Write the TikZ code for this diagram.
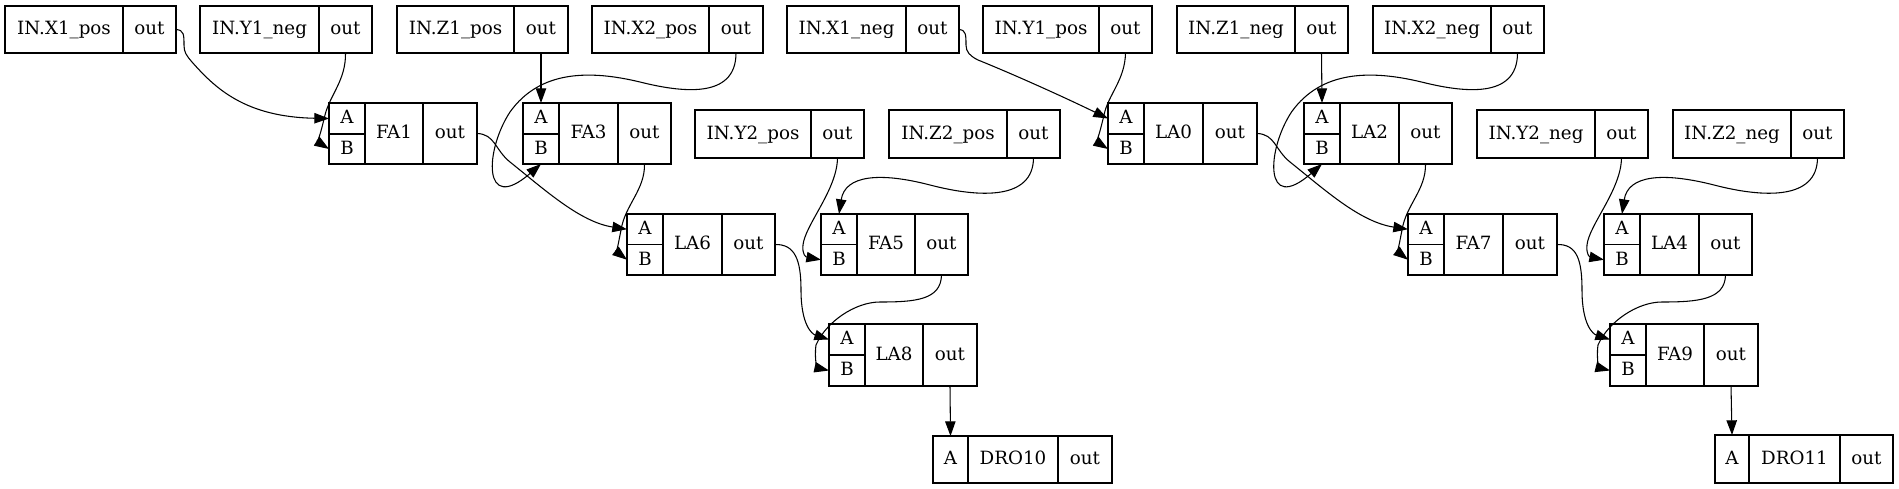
\documentclass[tikz,border=0pt]{standalone}
\usepackage{fontspec}
\setmainfont{DejaVu Serif}
\usetikzlibrary{arrows.meta}
\tikzset{
  fld/.style={draw, line width=0.8pt, inner sep=0pt, outer sep=0pt,
    text height=10pt, text depth=1.8pt, font=\fontsize{13.7pt}{16pt}\selectfont},
  wire/.style={draw, line width=0.8pt, -{Triangle[length=11pt,width=7.8pt]}},
}
% one field: name, x1, y1, x2, y2, text (pixel units)
\newcommand\fld[6]{\node[fld,minimum width={(#4-#2)*0.75pt},minimum height={(#5-#3)*0.75pt}] (#1) at ({(#2+#4)/2},{(#3+#5)/2}) {#6};}
% input record: name, x1, xdiv, x2, y1, y2, label
\newcommand\inrec[7]{\fld{#1}{#2}{#5}{#3}{#6}{#7}\fld{#1out}{#3}{#5}{#4}{#6}{out}}
% gate record: name, x1, d1, d2, x2, y1, ymid, y2
\newcommand\gate[8]{\fld{#1A}{#2}{#6}{#3}{#7}{A}\fld{#1B}{#2}{#7}{#3}{#8}{B}\fld{#1}{#3}{#6}{#4}{#8}{#1}\fld{#1out}{#4}{#6}{#5}{#8}{out}}
% output record: name, x1, d1, d2, x2, y1, y2
\newcommand\drorec[7]{\fld{#1A}{#2}{#6}{#3}{#7}{A}\fld{#1}{#3}{#6}{#4}{#7}{#1}\fld{#1out}{#4}{#6}{#5}{#7}{out}}
\begin{document}
\begin{tikzpicture}[x=0.75pt,y=-0.75pt]
\useasboundingbox (0,0) rectangle (1899,489);
% inputs, top row
\inrec{X1pos}{5}{123}{176}{6}{53}{IN.X1\_pos}
\inrec{Y1neg}{200}{319}{372}{6}{53}{IN.Y1\_neg}
\inrec{Z1pos}{397}{514}{568}{6}{53}{IN.Z1\_pos}
\inrec{X2pos}{592}{709}{763}{6}{53}{IN.X2\_pos}
\inrec{X1neg}{787}{906}{959}{6}{53}{IN.X1\_neg}
\inrec{Y1pos}{983}{1099}{1152}{6}{53}{IN.Y1\_pos}
\inrec{Z1neg}{1177}{1295}{1348}{6}{53}{IN.Z1\_neg}
\inrec{X2neg}{1373}{1491}{1544}{6}{53}{IN.X2\_neg}
% inputs, second row
\inrec{Y2pos}{695}{811}{864}{110}{158}{IN.Y2\_pos}
\inrec{Z2pos}{889}{1007}{1060}{110}{158}{IN.Z2\_pos}
\inrec{Y2neg}{1477}{1595}{1648}{110}{158}{IN.Y2\_neg}
\inrec{Z2neg}{1673}{1791}{1844}{110}{158}{IN.Z2\_neg}
% gates
\gate{FA1}{329}{365}{423}{477}{103}{134}{164}
\gate{FA3}{523}{559}{618}{671}{103}{134}{164}
\gate{LA0}{1108}{1144}{1203}{1257}{103}{134}{164}
\gate{LA2}{1304}{1340}{1399}{1452}{103}{134}{164}
\gate{LA6}{627}{663}{722}{775}{214}{244.5}{275}
\gate{FA5}{821}{857}{915}{968}{214}{244.5}{275}
\gate{FA7}{1408}{1444}{1503}{1557}{214}{244.5}{275}
\gate{LA4}{1604}{1640}{1699}{1752}{214}{244.5}{275}
\gate{LA8}{829}{865}{923}{977}{324}{355}{386}
\gate{FA9}{1610}{1646}{1704}{1758}{324}{355}{386}
\drorec{DRO10}{933}{968}{1058}{1112}{436}{483}
\drorec{DRO11}{1715}{1749}{1840}{1893}{435}{483}
% wires, left half
\path[wire] (X1posout.east) .. controls (184,30) and (184,35) .. (184,45) .. controls (184,52) and (186,55) .. (192,62) .. controls (215,88) and (245,117) .. (FA1A.west);
\path[wire] (Y1negout.south) .. controls (346,80) and (330,95) .. (325,115) .. controls (321,132) and (318,142) .. (FA1B.west);
\path[wire] (Z1posout.south) -- (FA3A.north);
\path[wire] (X2posout.south) .. controls (736,100) and (680,92) .. (640,82) .. controls (590,70) and (540,70) .. (510,112) .. controls (485,150) and (482,215) .. (FA3B.south);
\path[wire] (FA1out.east) .. controls (495,134) and (495,150) .. (510,162) .. controls (545,190) and (580,222) .. (LA6A.west);
\path[wire] (FA3out.south) .. controls (645,190) and (625,205) .. (621,230) .. controls (618,245) and (617,252) .. (LA6B.west);
\path[wire] (Y2posout.south) .. controls (837,190) and (805,225) .. (803,245) .. controls (802,255) and (806,257) .. (FA5B.west);
\path[wire] (Z2posout.south) .. controls (1033,200) and (980,198) .. (930,185) .. controls (880,172) and (845,175) .. (FA5A.north);
\path[wire] (LA6out.east) .. controls (795,244) and (801,260) .. (801,290) .. controls (801,325) and (812,334) .. (LA8A.west);
\path[wire] (FA5out.south) .. controls (941,300) and (915,302) .. (880,302) .. controls (855,302) and (826,322) .. (816,345) .. controls (814,360) and (818,368) .. (LA8B.west);
\path[wire] (LA8out.south) -- (DRO10A.north);
% wires, right half
\path[wire] (X1negout.east) .. controls (966,30) and (966,35) .. (966,45) .. controls (966,52) and (970,56) .. (978,60) .. controls (1020,77) and (1070,100) .. (LA0A.west);
\path[wire] (Y1posout.south) .. controls (1125,80) and (1108,95) .. (1104,115) .. controls (1100,132) and (1097,142) .. (LA0B.west);
\path[wire] (Z1negout.south) -- (LA2A.north);
\path[wire] (X2negout.south) .. controls (1517.5,100) and (1461.5,92) .. (1421.5,82) .. controls (1371.5,70) and (1321.5,70) .. (1291.5,112) .. controls (1266.5,150) and (1263.5,215) .. (LA2B.south);
\path[wire] (LA0out.east) .. controls (1275,134) and (1275,150) .. (1290,162) .. controls (1325,190) and (1360,222) .. (FA7A.west);
\path[wire] (LA2out.south) .. controls (1426,190) and (1406,205) .. (1402,230) .. controls (1399,245) and (1398,252) .. (FA7B.west);
\path[wire] (Y2negout.south) .. controls (1621,190) and (1589,225) .. (1587,245) .. controls (1586,255) and (1590,257) .. (LA4B.west);
\path[wire] (Z2negout.south) .. controls (1817,200) and (1764,198) .. (1714,185) .. controls (1663,172) and (1628,175) .. (LA4A.north);
\path[wire] (FA7out.east) .. controls (1577,244) and (1582,260) .. (1582,290) .. controls (1582,325) and (1593,334) .. (FA9A.west);
\path[wire] (LA4out.south) .. controls (1725,300) and (1697,302) .. (1662,302) .. controls (1637,302) and (1608,322) .. (1598,345) .. controls (1596,360) and (1600,368) .. (FA9B.west);
\path[wire] (FA9out.south) -- (DRO11A.north);
\end{tikzpicture}
\end{document}
